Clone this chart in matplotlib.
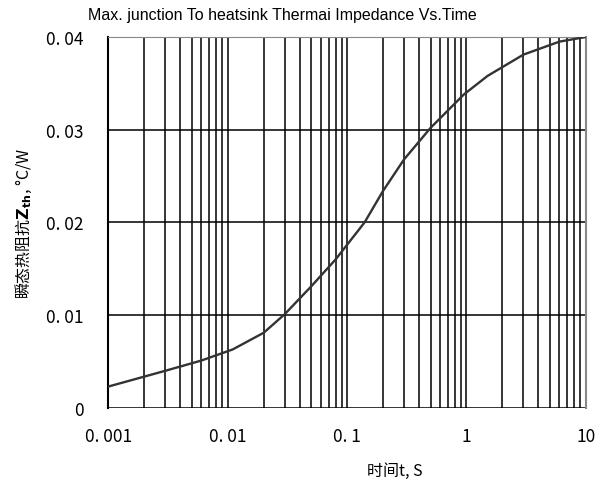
import numpy as np
import matplotlib
matplotlib.use("Agg")
import matplotlib.pyplot as plt
from matplotlib.ticker import FixedLocator, LogLocator, NullFormatter

plt.rcParams['font.family'] = ['Noto Sans CJK SC', 'DejaVu Sans']

# Curve
t = [0.001, 0.003, 0.006, 0.011, 0.02, 0.03, 0.05, 0.08, 0.14, 0.2, 0.3,
     0.5, 0.95, 1.5, 3, 6, 10]
zth = [0.0023, 0.0040, 0.0051, 0.0063, 0.0081, 0.0101, 0.0131, 0.0160, 0.0200,
       0.0234, 0.0268, 0.0302, 0.0338, 0.0358, 0.0381, 0.0395, 0.0400]

x_ticks = [0.001, 0.01, 0.1, 1, 10]
x_labels = ["0. 001", "0. 01", "0. 1", "1", "10"]
y_ticks = [0, 0.01, 0.02, 0.03, 0.04]
y_labels = ["0", "0. 01", "0. 02", "0. 03", "0. 04"]

fig = plt.figure(figsize=(6.09, 4.81), dpi=100)
ax = fig.add_axes([0.178, 0.150, 0.784, 0.771])

ax.plot(t, zth, color="#333333", linewidth=1.7, zorder=3)

ax.set_xscale("log")
ax.set_xlim(0.001, 10)
ax.set_ylim(0, 0.04)

ax.xaxis.set_major_locator(FixedLocator(x_ticks))
ax.set_xticklabels(x_labels)
ax.xaxis.set_minor_locator(LogLocator(base=10, subs=np.arange(2, 10)))
ax.xaxis.set_minor_formatter(NullFormatter())
ax.set_yticks(y_ticks)
ax.set_yticklabels(y_labels)

ax.grid(True, which="both", axis="x", color="black", linewidth=1.1)
ax.grid(True, which="major", axis="y", color="black", linewidth=1.1)
ax.tick_params(which="both", length=0, labelsize=12.5, pad=14)
ax.tick_params(axis="y", pad=18)

ax.spines["left"].set_color("black")
ax.spines["left"].set_linewidth(1.5)
ax.spines["top"].set_color("#888888")
ax.spines["right"].set_color("#888888")
ax.spines["right"].set_linewidth(1.5)
ax.spines["bottom"].set_visible(False)

fig.text(0.463, 0.967, "Max. junction To heatsink Thermai Impedance Vs.Time",
         fontsize=11.5, family="Liberation Sans", ha="center", va="center")
ax.set_ylabel("瞬态热阻抗$\\mathbf{Z_{th}}$, °C/W", fontsize=11.5)
ax.yaxis.set_label_coords(-0.155, 0.5)
ax.set_xlabel("时间t, S", fontsize=11.5)
ax.xaxis.set_label_coords(0.6, -0.145)

fig.savefig("out.png", dpi=100)
